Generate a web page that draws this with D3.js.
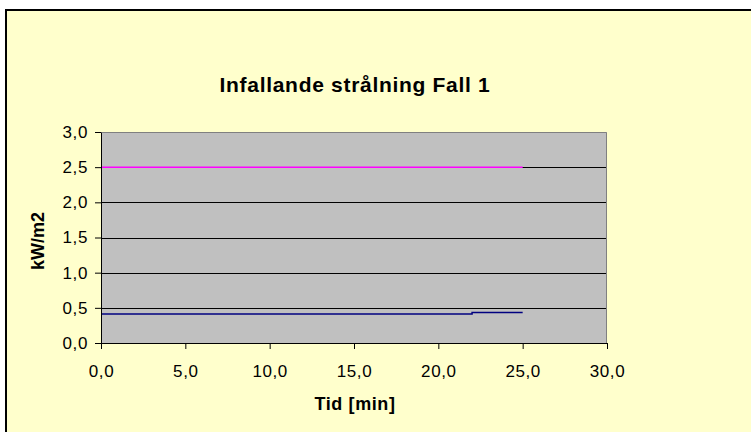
<!DOCTYPE html>
<html>
<head>
<meta charset="utf-8">
<script src="https://cdn.jsdelivr.net/npm/d3@7"></script>
<style>
  body { margin: 0; background: #fff; }
  text { font-family: Arial, "Liberation Sans", sans-serif; fill: #000; }
</style>
</head>
<body>
<div id="container"></div>
<script>
// magenta series and blue series, time in minutes
const magentaTime = [0, 25];
const magentaValue = [2.5, 2.5];
const blueTime = [0, 22, 22, 25];
const blueValue = [0.412, 0.412, 0.432, 0.432];
const xTicks = [0, 5, 10, 15, 20, 25, 30];
const yTicks = [0, 0.5, 1, 1.5, 2, 2.5, 3];

const W = 751, H = 432;
const margin = { top: 132, right: 144, bottom: 89, left: 101 },
  width = W - margin.left - margin.right,
  height = H - margin.top - margin.bottom;

const fmt = (d) => d3.format(".1f")(d).replace(".", ",");

const svg = d3
  .select("#container")
  .append("svg")
  .attr("width", W)
  .attr("height", H);

// chart area background + border
svg.append("rect")
  .attr("x", 6).attr("y", 10)
  .attr("width", W + 10).attr("height", H + 10)
  .attr("fill", "#FFFFCC")
  .attr("stroke", "#000")
  .attr("stroke-width", 2);

const g = svg.append("g")
  .attr("transform", `translate(${margin.left},${margin.top})`);

const xScale = d3.scaleLinear().domain([0, 30]).range([0, width]);
const yScale = d3.scaleLinear().domain([0, 3]).range([height, 0]);

g.append("rect")
  .attr("width", width).attr("height", height)
  .attr("fill", "#C0C0C0");

// grid lines
g.append("g")
  .selectAll("line")
  .data(yTicks.slice(1, -1))
  .enter()
  .append("line")
  .attr("x1", 0).attr("x2", width)
  .attr("y1", (d) => Math.round(yScale(d)) + 0.5)
  .attr("y2", (d) => Math.round(yScale(d)) + 0.5)
  .attr("stroke", "#000")
  .attr("stroke-width", 1);

// plot border: grey top/right, black left/bottom (axes)
g.append("path")
  .attr("d", `M0.5,0.5H${width - 0.5}V${height}`)
  .attr("fill", "none")
  .attr("stroke", "#808080");

const xAxis = d3.axisBottom(xScale).tickValues(xTicks).tickFormat(fmt)
  .tickSize(6).tickSizeOuter(0).tickPadding(16);
const yAxis = d3.axisLeft(yScale).tickValues(yTicks).tickFormat(fmt)
  .tickSize(6).tickSizeOuter(0).tickPadding(7);

const line = d3.line()
  .x((d) => xScale(d[0]))
  .y((d) => yScale(d[1]));

g.append("path")
  .datum(magentaTime.map((t, i) => [t, magentaValue[i]]))
  .attr("d", line)
  .attr("fill", "none")
  .attr("stroke", "#FF00FF")
  .attr("stroke-width", 1.5);

g.append("path")
  .datum(blueTime.map((t, i) => [t, blueValue[i]]))
  .attr("d", line)
  .attr("fill", "none")
  .attr("stroke", "#000080")
  .attr("stroke-width", 1.5);

const styleTicks = (a) => a.selectAll("text")
  .style("font-size", "17px")
  .style("letter-spacing", "0.6px")
  .attr("fill", "#000");

g.append("g")
  .attr("transform", `translate(0, ${height})`)
  .call(xAxis)
  .call((a) => a.select(".domain").attr("stroke", "#000"))
  .call(styleTicks);

g.append("g")
  .call(yAxis)
  .call((a) => a.select(".domain").attr("stroke", "#000"))
  .call(styleTicks);

svg.append("text")
  .attr("x", 355)
  .attr("y", 92)
  .attr("text-anchor", "middle")
  .style("font-size", "21px")
  .style("letter-spacing", "0.7px")
  .style("font-weight", "bold")
  .text("Infallande strålning Fall 1");

svg.append("text")
  .attr("x", 355)
  .attr("y", 410)
  .attr("text-anchor", "middle")
  .style("font-size", "18px")
  .style("letter-spacing", "0.6px")
  .style("font-weight", "bold")
  .text("Tid [min]");

svg.append("text")
  .attr("transform", `translate(44, 241) rotate(-90)`)
  .attr("text-anchor", "middle")
  .style("font-size", "18px")
  .style("font-weight", "bold")
  .text("kW/m2");
</script>
</body>
</html>
